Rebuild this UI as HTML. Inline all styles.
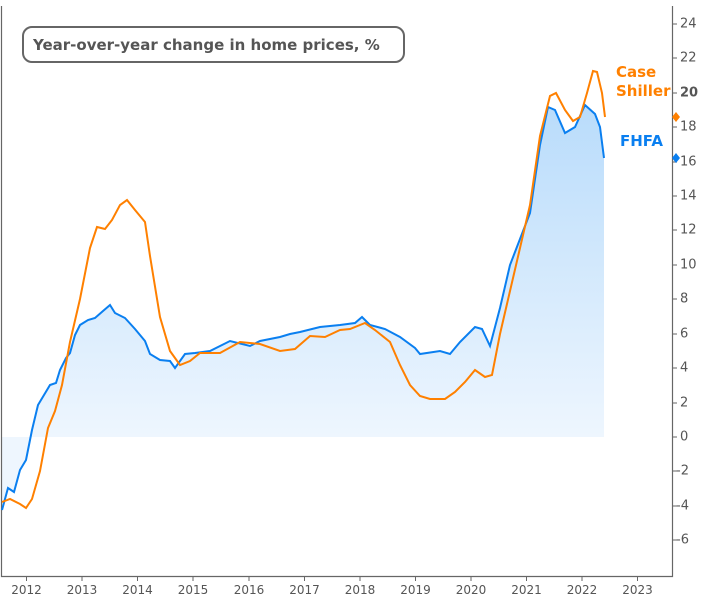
<!DOCTYPE html>
<html><head><meta charset="utf-8"><style>
body{margin:0;background:#fff;}
svg text{font-family:"DejaVu Sans","Liberation Sans",sans-serif;}
</style></head><body>
<svg width="701" height="596" viewBox="0 0 701 596" xmlns="http://www.w3.org/2000/svg">
<defs>
<linearGradient id="g" x1="0" y1="107" x2="0" y2="437" gradientUnits="userSpaceOnUse">
<stop offset="0" stop-color="#b9dcfb"/><stop offset="1" stop-color="#eef6fe"/>
</linearGradient>
</defs>
<rect x="0" y="0" width="701" height="596" fill="#fff"/>
<!-- fill -->
<polygon fill="url(#g)" points="2,437 2,510 8,488 14,492 20,470 26,460 32,430 38,405 44,395 50,385 56,383 60,370 66,358 70,353 75,335 80,325 88,320 95,318 103,311 110,305 115,313 125,318 135,329 145,341 150,354 160,360 170,361 175,368 185,354 195,353 210,351 230,341 250,346 260,341 280,337 290,334 300,332 320,327 340,325 355,323 362,317 370,325 385,329 400,337 415,348 420,354 440,351 450,354 460,342 475,327 482,329 490,346 500,308 510,265 520,239 530,213 540,145 548,107 555,110 565,133 575,127 585,105 595,114 600,127 604,158 604,437"/>
<!-- frame -->
<path d="M1.5,6 V576.5 H672.5 V6" fill="none" stroke="#666" stroke-width="1.2"/>
<!-- FHFA -->
<polyline fill="none" stroke="#0a7ff0" stroke-width="2" points="2,510 8,488 14,492 20,470 26,460 32,430 38,405 44,395 50,385 56,383 60,370 66,358 70,353 75,335 80,325 88,320 95,318 103,311 110,305 115,313 125,318 135,329 145,341 150,354 160,360 170,361 175,368 185,354 195,353 210,351 230,341 250,346 260,341 280,337 290,334 300,332 320,327 340,325 355,323 362,317 370,325 385,329 400,337 415,348 420,354 440,351 450,354 460,342 475,327 482,329 490,346 500,308 510,265 520,239 530,213 540,145 548,107 555,110 565,133 575,127 585,105 595,114 600,127 604,158"/>
<!-- Case Shiller -->
<polyline fill="none" stroke="#ff8000" stroke-width="2" points="2,502 10,499 20,504 26,508 32,499 40,471 48,428 55,411 62,385 70,342 80,299 90,248 97,227 105,229 112,220 120,205 127,200 135,210 145,222 150,256 160,317 170,351 180,365 190,361 200,353 220,353 240,342 260,344 280,351 295,349 310,336 325,337 340,330 350,329 365,323 375,330 390,342 400,365 410,385 420,396 430,399 445,399 455,392 465,382 475,370 485,377 492,375 500,334 510,291 520,248 530,205 540,136 550,96 556,93 565,110 573,121 580,117 587,93 593,71 597,72 602,93 605,117"/>
<!-- y ticks -->
<g stroke="#666" stroke-width="1">
<line x1="672" y1="24" x2="677" y2="24"/><line x1="672" y1="58" x2="677" y2="58"/><line x1="672" y1="93" x2="677" y2="93"/><line x1="672" y1="127" x2="677" y2="127"/><line x1="672" y1="162" x2="677" y2="162"/><line x1="672" y1="196" x2="677" y2="196"/><line x1="672" y1="230" x2="677" y2="230"/><line x1="672" y1="265" x2="677" y2="265"/><line x1="672" y1="299" x2="677" y2="299"/><line x1="672" y1="334" x2="677" y2="334"/><line x1="672" y1="368" x2="677" y2="368"/><line x1="672" y1="403" x2="677" y2="403"/><line x1="672" y1="437" x2="677" y2="437"/><line x1="672" y1="471" x2="677" y2="471"/><line x1="672" y1="506" x2="677" y2="506"/><line x1="672" y1="540" x2="677" y2="540"/>
<line x1="26.5" y1="576" x2="26.5" y2="581"/><line x1="82" y1="576" x2="82" y2="581"/><line x1="137.5" y1="576" x2="137.5" y2="581"/><line x1="193" y1="576" x2="193" y2="581"/><line x1="249" y1="576" x2="249" y2="581"/><line x1="304.5" y1="576" x2="304.5" y2="581"/><line x1="360" y1="576" x2="360" y2="581"/><line x1="415.5" y1="576" x2="415.5" y2="581"/><line x1="471" y1="576" x2="471" y2="581"/><line x1="526.5" y1="576" x2="526.5" y2="581"/><line x1="582" y1="576" x2="582" y2="581"/><line x1="637.5" y1="576" x2="637.5" y2="581"/>
</g>
<g font-size="13" fill="#555" dominant-baseline="middle">
<text x="680" y="24">24</text><text x="680" y="58">22</text><text x="680" y="93" font-weight="bold">20</text><text x="680" y="127">18</text><text x="680" y="162">16</text><text x="680" y="196">14</text><text x="680" y="230">12</text><text x="680" y="265">10</text><text x="680" y="299">8</text><text x="680" y="334">6</text><text x="680" y="368">4</text><text x="680" y="403">2</text><text x="680" y="437">0</text><text x="676" y="471">-2</text><text x="676" y="506">-4</text><text x="676" y="540">-6</text>
</g>
<g font-size="12" fill="#555" text-anchor="middle">
<text x="26.5" y="594">2012</text><text x="82" y="594">2013</text><text x="137.5" y="594">2014</text><text x="193" y="594">2015</text><text x="249" y="594">2016</text><text x="304.5" y="594">2017</text><text x="360" y="594">2018</text><text x="415.5" y="594">2019</text><text x="471" y="594">2020</text><text x="526.5" y="594">2021</text><text x="582" y="594">2022</text><text x="637.5" y="594">2023</text>
</g>
<polygon points="676,112 680,117 676,122 672,117" fill="#ff8000"/>
<polygon points="676,153 680,158 676,163 672,158" fill="#0a7ff0"/>
<g font-size="15" font-weight="bold">
<text x="616" y="77" fill="#ff8000">Case</text>
<text x="616" y="96" fill="#ff8000">Shiller</text>
<text x="620" y="146" fill="#0a7ff0">FHFA</text>
</g>
<rect x="23" y="27" width="381" height="35" rx="9" fill="#fff" stroke="#666" stroke-width="2"/>
<text x="33" y="50" font-size="15" font-weight="bold" fill="#555">Year-over-year change in home prices, %</text>
</svg>
</body></html>
